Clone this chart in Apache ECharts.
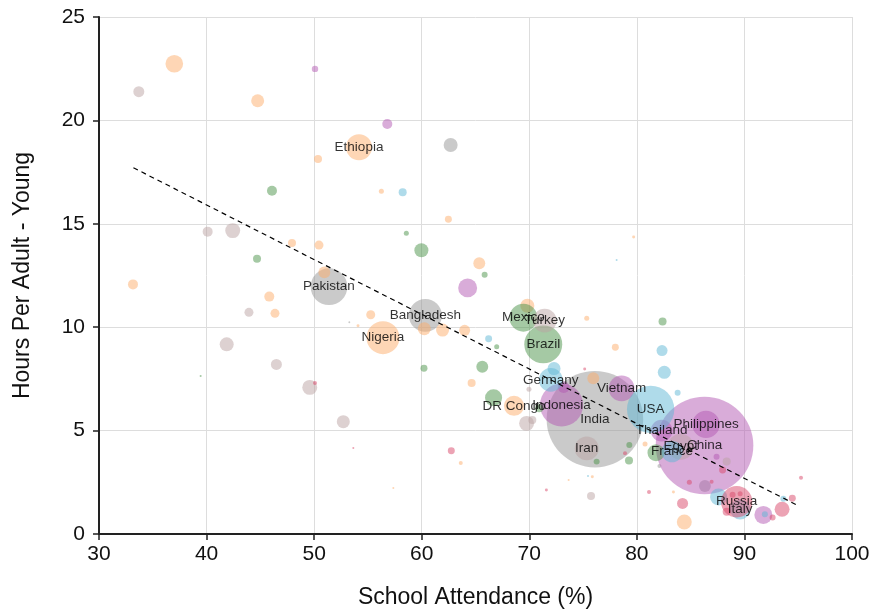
<!DOCTYPE html>
<html>
<head>
<meta charset="utf-8">
<script src="https://cdn.jsdelivr.net/npm/echarts@6/dist/echarts.min.js"></script>
<style>html,body{margin:0;padding:0;background:#fff}#c{width:875px;height:611px}</style>
</head>
<body>
<div id="c"></div>
<script>
// rows: [school attendance %, hours per adult, population (millions), label]
const xTicks = [30, 40, 50, 60, 70, 80, 90, 100];
const yTicks = [0, 5, 10, 15, 20, 25];
const trendX = [33.2, 95.0];
const trendY = [17.71, 1.37];

const southAsia = [
  [62.69, 18.81, 29], [51.38, 11.96, 200, 'Pakistan'], [60.34, 10.57, 160, 'Bangladesh'],
  [76.1, 5.55, 1380, 'India'], [53.27, 10.24, 0.5], [86.33, 2.32, 21], [82.1, 3.29, 2.4]
];
const eastAsia = [
  [50.08, 22.49, 6], [56.8, 19.83, 14.8], [64.27, 11.9, 53], [73.0, 6.24, 275, 'Indonesia'],
  [73.2, 7.1, 20], [78.58, 7.04, 98, 'Vietnam'], [82.3, 5.0, 70, 'Thailand'],
  [86.43, 5.3, 110, 'Philippines'], [86.29, 4.28, 1410, 'China'], [87.41, 3.74, 5.3], [91.76, 0.92, 48]
];
const africa = [
  [37.0, 22.74, 46], [44.75, 20.95, 25], [50.36, 18.13, 9.5], [54.17, 18.7, 100, 'Ethiopia'],
  [56.25, 16.57, 3.7], [62.48, 15.22, 7.2], [47.94, 14.07, 9.5], [50.45, 13.97, 12],
  [33.16, 12.07, 14.8], [50.95, 12.65, 21], [45.83, 11.48, 14.8], [46.36, 10.67, 12],
  [65.35, 13.09, 21], [55.26, 10.6, 12], [54.08, 10.07, 1.3], [60.24, 9.93, 25],
  [61.94, 9.86, 25], [63.99, 9.85, 18], [56.4, 9.49, 160, 'Nigeria'], [69.82, 11.04, 29],
  [75.34, 10.43, 3.7], [64.64, 7.3, 9.5], [68.58, 6.2, 60, 'DR Congo'], [63.63, 3.43, 2.4],
  [57.36, 2.22, 0.6], [73.66, 2.61, 0.6], [79.7, 14.36, 1.3], [78.0, 9.03, 7.2],
  [75.95, 7.53, 21], [80.76, 4.35, 3.7], [75.86, 2.77, 1.3], [83.4, 2.03, 1.3], [84.41, 0.58, 33]
];
const latinAmerica = [
  [46.08, 16.6, 14.8], [44.69, 13.31, 9.5], [39.45, 7.64, 0.6], [58.57, 14.54, 3.7],
  [59.97, 13.72, 29], [65.85, 12.54, 5.3], [66.97, 9.06, 3.7], [69.45, 10.46, 115, 'Mexico'],
  [71.3, 9.17, 213, 'Brazil'], [60.21, 8.01, 7.2], [65.63, 8.09, 21], [66.68, 6.59, 43],
  [70.93, 6.08, 9.5], [82.39, 10.27, 9.5], [81.78, 3.93, 43], [79.3, 4.3, 5.3],
  [79.27, 3.55, 9.5], [76.26, 3.5, 5.3]
];
const middleEast = [
  [33.7, 21.39, 17.9], [40.1, 14.62, 14.8], [42.43, 14.67, 33], [43.94, 10.72, 12],
  [41.87, 9.17, 29], [46.49, 8.2, 17.9], [49.59, 7.09, 33], [52.71, 5.43, 25],
  [71.43, 10.32, 84, 'Turkey'], [69.75, 5.35, 33], [70.28, 5.51, 9.5], [69.97, 7.0, 3.7],
  [75.34, 4.14, 85, 'Iran'], [84.07, 4.22, 100, 'Egypt'], [75.74, 1.84, 9.5], [88.35, 3.5, 9.5]
];
const west = [
  [58.23, 16.52, 9.5], [66.22, 9.44, 7.2], [72.3, 8.0, 25], [72.0, 7.45, 83, 'Germany'],
  [81.28, 6.03, 331, 'USA'], [82.34, 8.87, 17.9], [82.55, 7.82, 25], [83.79, 6.83, 5.3],
  [78.12, 13.25, 0.6], [83.27, 3.98, 67, 'France'], [87.6, 1.79, 43], [89.6, 1.19, 60, 'Italy'],
  [93.62, 1.71, 5.3], [75.46, 2.8, 0.6], [91.9, 0.95, 5.3]
];
const eastEurope = [
  [50.08, 7.3, 2.4], [62.75, 4.03, 7.2], [53.64, 4.16, 0.6], [71.59, 2.13, 1.3],
  [75.15, 7.98, 1.3], [78.9, 3.9, 2.4], [81.13, 2.03, 2.4], [84.25, 1.48, 18],
  [84.88, 2.5, 3.7], [87.97, 3.09, 7.2], [86.95, 2.53, 2.4], [89.28, 1.56, 145, 'Russia'],
  [88.35, 1.08, 9.5], [93.5, 1.2, 33], [94.45, 1.73, 7.2], [95.26, 2.72, 2.4],
  [92.62, 0.8, 5.3], [88.9, 1.9, 5.3], [89.6, 1.95, 3.7]
];

const groups = [
  [southAsia, '#969696'],
  [eastAsia, '#b45ab4'],
  [africa, '#fdae6b'],
  [latinAmerica, '#4c944a'],
  [middleEast, '#bca3a3'],
  [west, '#5fb7d6'],
  [eastEurope, '#d9476a']
];

const sizeOf = v => 2.6 * Math.sqrt(v[2]);
const FONT = '"Liberation Sans", Arial, Helvetica, sans-serif';

const series = groups.map(([rows, color]) => ({
  type: 'scatter',
  data: rows.slice().sort((a, b) => b[2] - a[2]).map(r => [r[0], r[1], r[2]]),
  symbolSize: sizeOf,
  itemStyle: { color: color, opacity: 0.5 },
  silent: true
}));

series.push({
  type: 'line',
  data: trendX.map((x, i) => [x, trendY[i]]),
  symbol: 'none',
  lineStyle: { color: '#000', width: 1.2, type: [5, 4] },
  z: 5, silent: true
});

const labelled = [];
groups.forEach(([rows]) => rows.forEach(r => { if (r[3]) labelled.push({ value: [r[0], r[1]], name: r[3] }); }));
series.push({
  type: 'scatter',
  data: labelled,
  symbolSize: 0,
  z: 10,
  silent: true,
  label: { show: true, position: 'inside', formatter: p => p.name, color: '#000', fontSize: 13.5, fontFamily: FONT }
});

const chart = echarts.init(document.getElementById('c'));
chart.setOption({
  animation: false,
  grid: { left: 99, right: 23, top: 17, bottom: 77, containLabel: false, outerBoundsMode: 'none' },
  xAxis: {
    type: 'value', min: xTicks[0], max: xTicks[xTicks.length - 1], interval: 10,
    name: 'School Attendance (%)', nameLocation: 'middle', nameGap: 52,
    nameTextStyle: { fontSize: 23, color: '#111', fontFamily: FONT },
    axisLine: { lineStyle: { color: '#222', width: 2 } },
    axisTick: { show: true, length: 6, lineStyle: { color: '#222', width: 1.5 } },
    axisLabel: { fontSize: 21, color: '#111', margin: 10, fontFamily: FONT },
    splitLine: { show: true, lineStyle: { color: '#ddd', width: 1 } }
  },
  yAxis: {
    type: 'value', min: yTicks[0], max: yTicks[yTicks.length - 1], interval: 5,
    name: 'Hours Per Adult - Young', nameLocation: 'middle', nameGap: 65,
    nameTextStyle: { fontSize: 23, color: '#111', fontFamily: FONT },
    axisLine: { show: true, lineStyle: { color: '#222', width: 2 } },
    axisTick: { show: true, length: 6, lineStyle: { color: '#222', width: 1.5 } },
    axisLabel: { fontSize: 21, color: '#111', margin: 14, fontFamily: FONT },
    splitLine: { show: true, lineStyle: { color: '#ddd', width: 1 } }
  },
  series: series
});
</script>
</body>
</html>
